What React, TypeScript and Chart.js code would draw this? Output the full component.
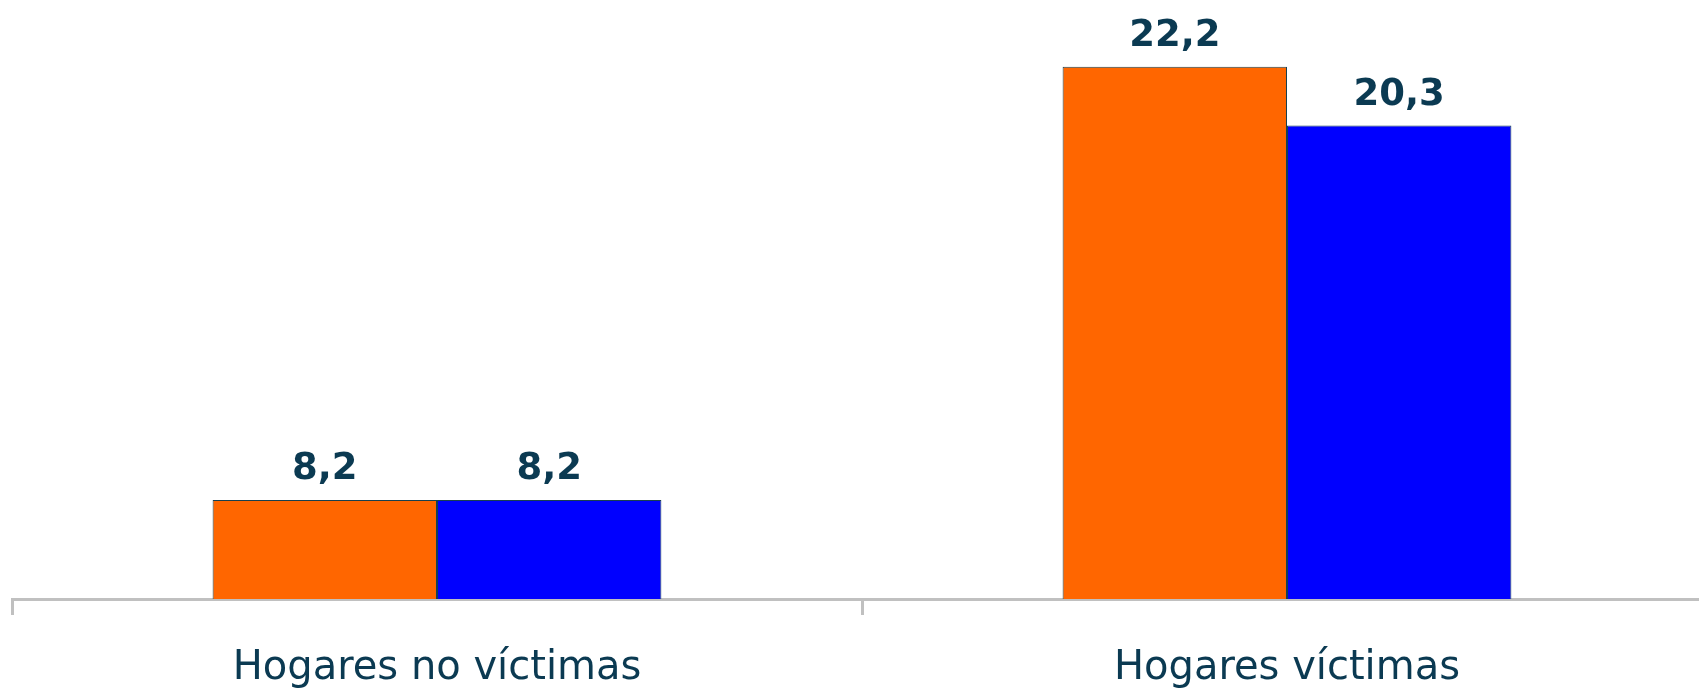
import React, { useEffect, useRef } from "react";
import { Chart, registerables } from "chart.js";

Chart.register(...registerables);

const categories = ["Hogares no víctimas", "Hogares víctimas"];
const seriesA = [8.2, 22.2];
const seriesB = [8.2, 20.3];
const seriesLabels = ["Serie 1", "Serie 2"];
const seriesColors = ["#ff6600", "#0000ff"];

const TEXT_COLOR = "#0b3a52";

const valueLabels = {
  id: "valueLabels",
  afterDatasetsDraw(chart: any) {
    const ctx = chart.ctx;
    ctx.save();
    ctx.font = "bold 37px 'DejaVu Sans'";
    ctx.fillStyle = TEXT_COLOR;
    ctx.textAlign = "center";
    ctx.textBaseline = "alphabetic";
    chart.data.datasets.forEach((ds: any, di: number) => {
      const meta = chart.getDatasetMeta(di);
      meta.data.forEach((bar: any, i: number) => {
        const v = ds.data[i] as number;
        ctx.fillText(v.toFixed(1).replace(".", ","), bar.x, bar.y - 21);
      });
    });
    ctx.restore();
  },
};

export default function App() {
  const ref = useRef<HTMLCanvasElement | null>(null);
  useEffect(() => {
    if (!ref.current) return;
    const chart = new Chart(ref.current, {
      type: "bar",
      data: {
        labels: categories,
        datasets: [
          {
            label: seriesLabels[0],
            data: seriesA,
            backgroundColor: seriesColors[0],
            borderColor: "#17404f",
            borderWidth: 1,
            categoryPercentage: 0.528,
            barPercentage: 1,
          },
          {
            label: seriesLabels[1],
            data: seriesB,
            backgroundColor: seriesColors[1],
            borderColor: "#17404f",
            borderWidth: 1,
            categoryPercentage: 0.528,
            barPercentage: 1,
          },
        ],
      },
      options: {
        responsive: false,
        animation: false,
        devicePixelRatio: 1,
        layout: { padding: { left: 12, right: 8, top: 11, bottom: 0 } },
        plugins: {
          legend: { display: false },
          tooltip: { enabled: false },
        },
        scales: {
          x: {
            offset: true,
            grid: {
              display: true,
              drawOnChartArea: false,
              drawTicks: true,
              tickLength: 16,
              color: "#c0c0c0",
              lineWidth: 3,
              offset: true,
            },
            border: { display: true, color: "#c0c0c0", width: 3 },
            ticks: {
              color: TEXT_COLOR,
              font: { family: "'DejaVu Sans'", size: 40 },
              padding: 30,
              maxRotation: 0,
              autoSkip: false,
            },
            afterFit: (scale: any) => {
              scale.height = 93;
            },
          },
          y: {
            display: false,
            min: 5,
            max: 24,
          },
        },
      },
      plugins: [valueLabels],
    });
    return () => chart.destroy();
  }, []);
  return (
    <div
      style={{
        position: "fixed",
        top: 0,
        left: 0,
        width: 1699,
        height: 692,
        overflow: "hidden",
        background: "#ffffff",
      }}
    >
      <canvas ref={ref} width={1720} height={692} style={{ display: "block", width: 1720, height: 692 }} />
    </div>
  );
}
